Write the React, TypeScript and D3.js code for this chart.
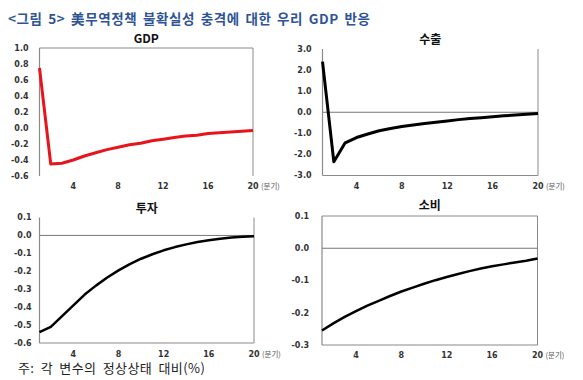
import React from "react";
import * as d3 from "d3";

const quarters = d3.range(1, 21);
const xTicks = [4, 8, 12, 16, 20];

const gdpValues = [0.75, -0.45, -0.44, -0.4, -0.35, -0.31, -0.27, -0.24, -0.21, -0.19, -0.16, -0.14, -0.12, -0.1, -0.09, -0.07, -0.06, -0.05, -0.04, -0.03];
const exportValues = [2.4, -2.35, -1.45, -1.2, -1.03, -0.88, -0.77, -0.68, -0.6, -0.53, -0.47, -0.41, -0.35, -0.3, -0.26, -0.21, -0.17, -0.13, -0.1, -0.06];
const investValues = [-0.54, -0.51, -0.45, -0.39, -0.33, -0.28, -0.235, -0.195, -0.16, -0.13, -0.105, -0.083, -0.065, -0.05, -0.037, -0.027, -0.018, -0.012, -0.008, -0.005];
const consumeValues = [-0.255, -0.233, -0.213, -0.195, -0.178, -0.163, -0.148, -0.134, -0.122, -0.11, -0.099, -0.089, -0.08, -0.071, -0.063, -0.056, -0.05, -0.044, -0.039, -0.032];

const gdpTicks = [1.0, 0.8, 0.6, 0.4, 0.2, 0.0, -0.2, -0.4, -0.6];
const exportTicks = [3, 2, 1, 0, -1, -2, -3];
const investTicks = [0.1, 0, -0.1, -0.2, -0.3, -0.4, -0.5, -0.6];
const consumeTicks = [0.1, 0, -0.1, -0.2, -0.3];

type PanelProps = {
  title: string;
  values: number[];
  ticks: number[];
  domain: [number, number];
  left: number;
  right: number;
  top: number;
  bottom: number;
  color: string;
  lw: number;
  zero: boolean;
  topLine: boolean;
  bottomLine: boolean;
  labelGap: number;
  titleY: number;
  xLabelY: number;
};

const tickFont = "'DejaVu Sans', Verdana, sans-serif";
const krFont = "'Noto Sans CJK KR', 'Noto Sans', sans-serif";

function Panel(p: PanelProps) {
  const x = d3.scaleLinear().domain([1, 20]).range([p.left, p.right]);
  const y = d3.scaleLinear().domain(p.domain).range([p.bottom, p.top]);
  const line = d3
    .line<number>()
    .x((_, i) => x(quarters[i]))
    .y((d) => y(d));
  const frame = "#8a8a8a";
  return (
    <g>
      <text x={(p.left + p.right) / 2} y={p.titleY} textAnchor="middle" fontFamily={krFont} fontWeight="bold" fontSize={12} fill="#111">
        {p.title}
      </text>
      <line x1={p.left} x2={p.left} y1={p.top} y2={p.bottom} stroke={frame} strokeWidth={1.2} />
      <line x1={p.right} x2={p.right} y1={p.top} y2={p.bottom} stroke={frame} strokeWidth={1} />
      {p.topLine && <line x1={p.left} x2={p.right} y1={p.top} y2={p.top} stroke={frame} strokeWidth={1} />}
      {p.bottomLine && <line x1={p.left} x2={p.right} y1={p.bottom} y2={p.bottom} stroke={frame} strokeWidth={1.2} />}
      {p.zero && <line x1={p.left} x2={p.right} y1={y(0)} y2={y(0)} stroke="#777" strokeWidth={1} />}
      {p.ticks.map((t) => (
        <text key={t} x={p.left - p.labelGap} y={y(t)} dy="0.35em" textAnchor="end" fontFamily={tickFont} fontWeight="bold" fontSize={8} fill="#333">
          {d3.format(".1f")(t).replace("−", "-")}
        </text>
      ))}
      {xTicks.map((t) => (
        <text key={t} x={x(t)} y={p.xLabelY} dy="0.35em" textAnchor="middle" fontFamily={tickFont} fontWeight="bold" fontSize={8} fill="#333">
          {t}
        </text>
      ))}
      <text x={x(20) + 8} y={p.xLabelY} dy="0.35em" fontFamily={krFont} fontSize={7.5} fill="#555">
        (분기)
      </text>
      <path d={line(p.values) || ""} fill="none" stroke={p.color} strokeWidth={p.lw} strokeLinejoin="round" />
    </g>
  );
}

export default function App() {
  return (
    <svg width={583} height={380} style={{ position: "absolute", left: 0, top: 0, background: "#fff" }}>
      <text x={8} y={24} fontFamily={krFont} fontWeight="bold" fontSize={13.5} letterSpacing={0.6} wordSpacing={2} fill="#2F5496">
        {"<그림 5> 美무역정책 불확실성 충격에 대한 우리 GDP 반응"}
      </text>
      <Panel title="GDP" values={gdpValues} ticks={gdpTicks} domain={[-0.6, 1.0]} left={39.5} right={253} top={48} bottom={176}
        color="#e8141b" lw={3} zero={false} topLine={true} bottomLine={false} labelGap={11} titleY={43} xLabelY={186} />
      <Panel title="수출" values={exportValues} ticks={exportTicks} domain={[-3, 3]} left={322.5} right={538} top={49} bottom={175.5}
        color="#000" lw={3} zero={true} topLine={false} bottomLine={true} labelGap={11} titleY={44} xLabelY={186} />
      <Panel title="투자" values={investValues} ticks={investTicks} domain={[-0.6, 0.1]} left={39.5} right={254} top={217.5} bottom={343}
        color="#000" lw={2.5} zero={true} topLine={false} bottomLine={true} labelGap={8} titleY={213} xLabelY={354} />
      <Panel title="소비" values={consumeValues} ticks={consumeTicks} domain={[-0.3, 0.1]} left={322} right={537.5} top={216} bottom={345}
        color="#000" lw={2.5} zero={true} topLine={true} bottomLine={true} labelGap={13} titleY={210} xLabelY={355.5} />
      <text x={18} y={373} fontFamily={krFont} fontSize={13} letterSpacing={0.4} wordSpacing={3} fill="#222">
        주: 각 변수의 정상상태 대비(%)
      </text>
    </svg>
  );
}
